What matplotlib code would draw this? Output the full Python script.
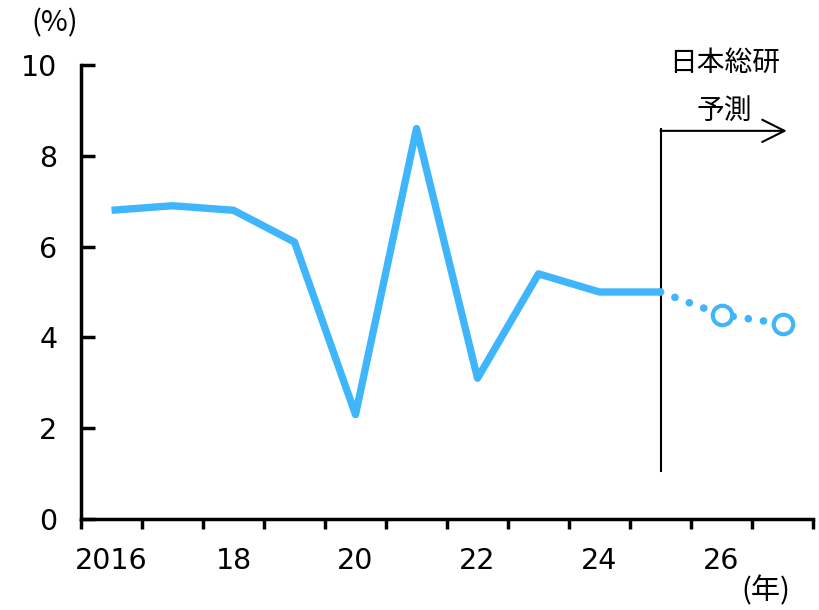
import numpy as np
import matplotlib.pyplot as plt

plt.rcParams['font.family'] = ['DejaVu Sans', 'Noto Sans CJK JP']

# 実績と予測
years = [2016, 2017, 2018, 2019, 2020, 2021, 2022, 2023, 2024, 2025]
growth = [6.8, 6.9, 6.8, 6.1, 2.3, 8.6, 3.1, 5.4, 5.0, 5.0]
fc_years = [2025, 2026, 2027]
fc_growth = [5.0, 4.5, 4.3]

tick_years = [2016, 2018, 2020, 2022, 2024, 2026]
tick_labels = ['2016', '18', '20', '22', '24', '26']

blue = '#3FB5FB'

fig = plt.figure(figsize=(8.19, 6.10), dpi=100)
ax = fig.add_axes([0.0989, 0.1492, 0.8938, 0.7442])

ax.plot(years, growth, color=blue, lw=5.3, solid_joinstyle='round',
        solid_capstyle='butt', zorder=3)
ax.plot(fc_years, fc_growth, color=blue, lw=5.5, linestyle=(0, (0.01, 2.0)),
        dash_capstyle='round', zorder=3)
ax.plot(fc_years[1:], fc_growth[1:], 'o', ms=14, mfc='white', mec=blue,
        mew=3, ls='none', zorder=4)

# 予測開始の区切りと矢印
ax.plot([2025, 2025], [1.05, 8.6], color='black', lw=1.5, zorder=2)
ax.annotate('', xy=(2027.07, 8.55), xytext=(2025, 8.55),
            arrowprops=dict(arrowstyle='->', color='black', lw=1.5,
                            mutation_scale=40, shrinkA=0, shrinkB=0))
ax.text(2026.05, 10.05, '日本総研', ha='center', va='center', fontsize=20,
        family=['Noto Sans CJK JP'])
ax.text(2026.05, 9.0, '予測', ha='center', va='center', fontsize=20,
        family=['Noto Sans CJK JP'])

ax.set_xlim(2015.5, 2027.5)
ax.set_ylim(0, 10)
ax.set_yticks([0, 2, 4, 6, 8, 10])
ax.set_xticks(tick_years)
ax.set_xticklabels(tick_labels)
ax.set_xticks(np.arange(2015.5, 2028, 1), minor=True)

ax.tick_params(axis='x', which='major', length=0, labelsize=20.5, pad=20)
ax.tick_params(axis='x', which='minor', direction='out', length=7, width=2.5)
ax.tick_params(axis='y', direction='in', length=10, width=2.5, labelsize=20.5, pad=17)

for s in ['top', 'right']:
    ax.spines[s].set_visible(False)
for s in ['left', 'bottom']:
    ax.spines[s].set_linewidth(2.5)

fig.text(0.067, 0.962, '(%)', fontsize=21, ha='center', va='center',
         family=['Noto Sans CJK JP'])
fig.text(0.935, 0.03, '(年)', fontsize=21, ha='center', va='center',
         family=['Noto Sans CJK JP'])

fig.savefig('out.png', dpi=100)
